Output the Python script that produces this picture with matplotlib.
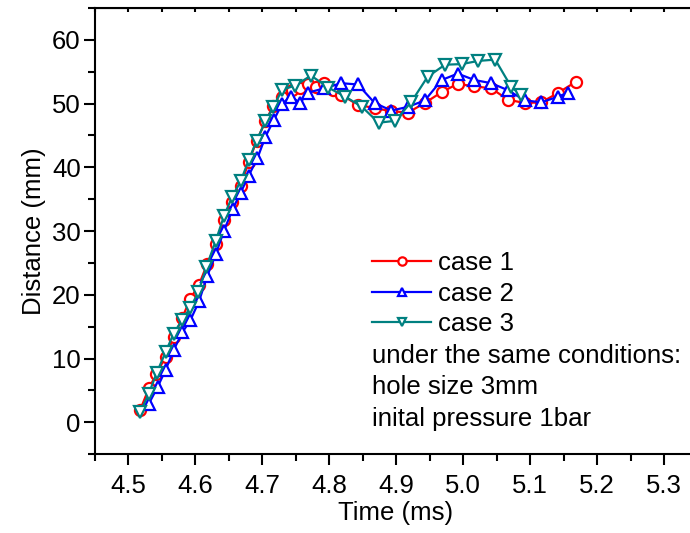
import matplotlib
import matplotlib.pyplot as plt
from matplotlib.ticker import MultipleLocator, NullFormatter

matplotlib.use('Agg')

plt.rcParams['font.family'] = ['Liberation Sans', 'DejaVu Sans']

# case 1 (red circles)
case1_t = [4.518, 4.531, 4.542, 4.556, 4.568, 4.581, 4.593, 4.606, 4.618, 4.631,
           4.643, 4.655, 4.668, 4.680, 4.692, 4.705, 4.717, 4.730, 4.744, 4.756,
           4.768, 4.781, 4.793, 4.806, 4.818, 4.843, 4.868, 4.893, 4.918, 4.943,
           4.968, 4.992, 5.017, 5.042, 5.067, 5.092, 5.117, 5.142, 5.168]
case1_d = [1.9, 5.3, 7.5, 10.3, 13.3, 16.4, 19.4, 21.6, 24.8, 27.9,
           31.8, 34.6, 37.1, 40.8, 44.2, 47.2, 49.7, 51.1, 52.1, 52.4,
           53.0, 52.6, 53.2, 52.2, 51.4, 49.8, 49.3, 48.8, 48.6, 50.1,
           51.8, 53.1, 52.7, 52.4, 50.6, 50.1, 50.2, 51.7, 53.4]

# case 2 (blue up triangles)
case2_t = [4.531, 4.544, 4.556, 4.568, 4.581, 4.593, 4.606, 4.618, 4.631, 4.643,
           4.656, 4.668, 4.680, 4.693, 4.705, 4.718, 4.730, 4.743, 4.757, 4.768,
           4.793, 4.818, 4.843, 4.868, 4.893, 4.918, 4.943, 4.968, 4.992, 5.017,
           5.042, 5.067, 5.092, 5.117, 5.142, 5.156]
case2_d = [2.9, 5.5, 8.2, 11.3, 14.1, 16.0, 19.0, 22.9, 26.4, 30.0,
           33.4, 36.0, 38.7, 41.4, 44.8, 47.5, 50.0, 51.1, 50.1, 51.7,
           52.4, 53.2, 53.0, 50.1, 48.9, 49.5, 50.5, 53.7, 54.7, 53.7,
           53.2, 52.1, 50.5, 50.2, 51.1, 51.7]

# case 3 (teal down triangles)
case3_t = [4.518, 4.531, 4.543, 4.556, 4.568, 4.581, 4.593, 4.605, 4.617, 4.631,
           4.643, 4.655, 4.668, 4.680, 4.692, 4.705, 4.717, 4.730, 4.749, 4.773,
           4.799, 4.824, 4.849, 4.874, 4.899, 4.923, 4.947, 4.973, 4.998, 5.023,
           5.048, 5.072, 5.086]
case3_d = [1.6, 4.5, 7.8, 11.0, 13.9, 16.1, 18.0, 20.4, 24.4, 28.5,
           32.3, 35.3, 37.8, 41.1, 44.2, 47.2, 49.5, 52.2, 52.8, 54.4,
           52.5, 51.1, 49.5, 47.0, 47.3, 50.3, 54.2, 56.1, 56.2, 56.7,
           56.9, 52.6, 51.4]

notes = ['under the same conditions:', 'hole size 3mm', 'inital pressure 1bar']

FS = 18.5

fig = plt.figure(figsize=(6.9, 5.33), dpi=100)
ax = fig.add_axes([0.137, 0.148, 0.874, 0.837])

ax.plot(case1_t, case1_d, '-o', color='#ff0000', lw=1.6, ms=8, mew=1.6,
        mfc='white', label='case 1')
ax.plot(case2_t, case2_d, '-^', color='#0000ff', lw=1.6, ms=8.5, mew=1.6,
        mfc='white', label='case 2')
ax.plot(case3_t, case3_d, '-v', color='#008080', lw=1.6, ms=8.5, mew=1.6,
        mfc='white', label='case 3')

ax.set_xlim(4.45, 5.35)
ax.set_ylim(-5, 65)
ax.xaxis.set_major_locator(MultipleLocator(0.1))
ax.xaxis.set_minor_locator(MultipleLocator(0.05))
ax.yaxis.set_major_locator(MultipleLocator(10))
ax.yaxis.set_minor_locator(MultipleLocator(5))
ax.xaxis.set_major_formatter(lambda v, p: f'{v:.1f}')

for s in ax.spines.values():
    s.set_linewidth(1.5)
ax.tick_params(which='both', direction='out', width=1.5, labelsize=FS,
               top=False, right=False)
ax.tick_params(which='major', length=8)
ax.tick_params(axis='x', which='major', pad=6.5)
ax.tick_params(axis='y', which='major', pad=2)
ax.tick_params(which='minor', length=5)

top = ax.secondary_xaxis('top')
top.xaxis.set_major_locator(MultipleLocator(0.05))
top.xaxis.set_major_formatter(NullFormatter())
top.tick_params(direction='in', length=3, width=1.5)

ax.set_xlabel('Time (ms)', fontsize=FS, labelpad=2)
ax.set_ylabel('Distance (mm)', fontsize=FS, labelpad=4)

leg = ax.legend(loc='upper left', bbox_to_anchor=(372 / 690, 1 - 251 / 533),
                bbox_transform=fig.transFigure, frameon=False, fontsize=FS,
                handlelength=2.3, handletextpad=0.27, labelspacing=0.26,
                borderaxespad=0, borderpad=0, markerscale=0.75)

for i, line in enumerate(notes):
    fig.text(372 / 690, 1 - (356 + 31.5 * i) / 533, line, fontsize=FS,
             va='center', ha='left')

fig.savefig('out.png', dpi=100)
